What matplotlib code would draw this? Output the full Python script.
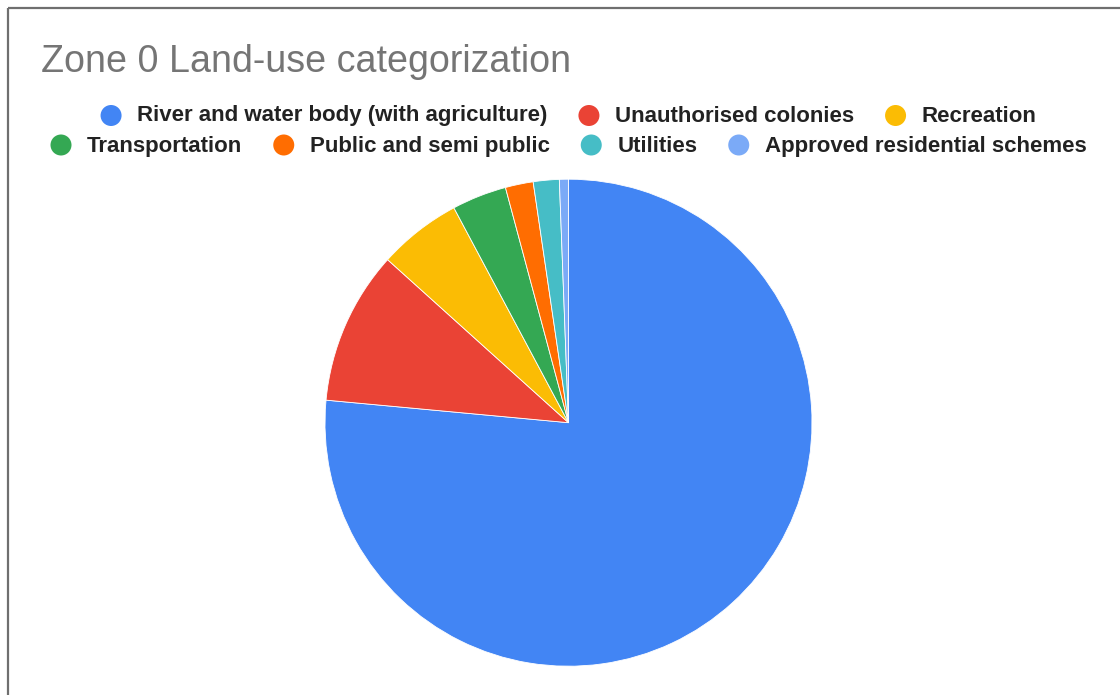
import matplotlib
matplotlib.use("Agg")
import matplotlib.pyplot as plt
from matplotlib.patches import Circle

categories = [
    "River and water body (with agriculture)",
    "Unauthorised colonies",
    "Recreation",
    "Transportation",
    "Public and semi public",
    "Utilities",
    "Approved residential schemes",
]
values = [76.5, 10.2, 5.53, 3.63, 1.85, 1.72, 0.6]
colors = ["#4285F4", "#EA4335", "#FBBC04", "#34A853", "#FF6D01", "#46BDC6", "#7BAAF7"]
title = "Zone 0 Land-use categorization"
legend_rows = [[0, 1, 2], [3, 4, 5, 6]]

W, H = 1120, 695
fig = plt.figure(figsize=(W / 100, H / 100), dpi=100)
fig.patch.set_facecolor("white")

# Pie axes (pixel geometry)
cx, cy, r = 568.5, 422.7, 243.5
ax = fig.add_axes([(cx - r) / W, (H - cy - r) / H, 2 * r / W, 2 * r / H])
ax.pie(values, colors=colors, startangle=90, counterclock=False,
       wedgeprops=dict(linewidth=0.6, edgecolor="white"))
ax.set_xlim(-1, 1)
ax.set_ylim(-1, 1)
ax.set_aspect("equal")
ax.axis("off")

# Overlay axes in pixel coordinates
ov = fig.add_axes([0, 0, 1, 1], zorder=5)
ov.set_xlim(0, W)
ov.set_ylim(H, 0)
ov.axis("off")
ov.patch.set_alpha(0)

# Border (top and left)
ov.plot([8, W], [8, 8], color="#6f6f6f", lw=1.6, solid_capstyle="butt")
ov.plot([8, 8], [8, H], color="#6f6f6f", lw=1.6, solid_capstyle="butt")

ov.text(41, 72.5, title, fontsize=27.1, color="#757575", family="Liberation Sans",
        va="baseline", ha="left")

renderer = fig.canvas.get_renderer()
rad = 10.5
c2t = 15.5
gap = 31
circle_y = [115.5, 145]
base_y = [121.5, 152]
for ri, row in enumerate(legend_rows):
    texts = []
    widths = []
    for i in row:
        t = ov.text(0, base_y[ri], categories[i], fontsize=16.0, fontweight="bold",
                    color="#222222", family="Liberation Sans", va="baseline", ha="left")
        texts.append(t)
        widths.append(t.get_window_extent(renderer).width)
    total = sum(2 * rad + c2t + w for w in widths) + gap * (len(row) - 1)
    x = cx - total / 2
    for t, w, i in zip(texts, widths, row):
        ov.add_patch(Circle((x + rad, circle_y[ri]), rad, color=colors[i], lw=0))
        t.set_x(x + 2 * rad + c2t)
        x += 2 * rad + c2t + w + gap

fig.savefig("out.png", dpi=100, facecolor="white")
